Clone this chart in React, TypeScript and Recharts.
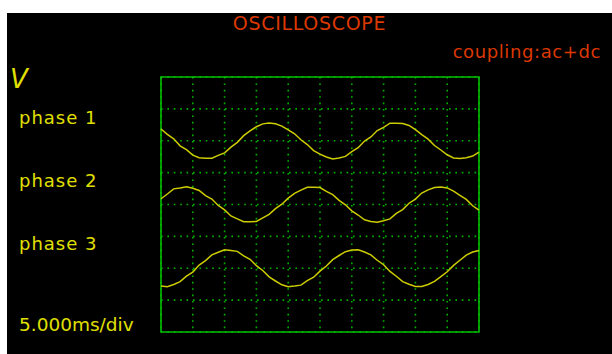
import React from "react";
import { LineChart, Line, XAxis, YAxis, CartesianGrid, ReferenceArea } from "recharts";

// time in ms (5 ms/div, 10 divisions)
const timeMs = [
  0, 1, 2, 3, 4, 5, 6, 7, 8, 9, 10, 11, 12, 13, 14, 15, 16, 17, 18, 19,
  20, 21, 22, 23, 24, 25, 26, 27, 28, 29, 30, 31, 32, 33, 34, 35, 36, 37, 38, 39,
  40, 41, 42, 43, 44, 45, 46, 47, 48, 49, 50,
];

// vertical position in divisions (0..8)
const phase1 = [
  6.37, 6.2, 6.06, 5.84, 5.72, 5.55, 5.47, 5.45, 5.45, 5.54, 5.62, 5.8, 5.95, 6.16, 6.31, 6.44, 6.53, 6.56, 6.53, 6.46,
  6.34, 6.22, 6.03, 5.88, 5.69, 5.58, 5.49, 5.43, 5.46, 5.51, 5.66, 5.78, 5.99, 6.12, 6.32, 6.42, 6.55, 6.55, 6.54, 6.48,
  6.35, 6.19, 6.05, 5.85, 5.71, 5.56, 5.46, 5.44, 5.47, 5.52, 5.64,
];
const phase2 = [
  4.18, 4.33, 4.49, 4.52, 4.56, 4.51, 4.44, 4.28, 4.17, 3.97, 3.83, 3.64, 3.55, 3.46, 3.46, 3.47, 3.58, 3.69, 3.87, 4.01,
  4.2, 4.35, 4.45, 4.54, 4.54, 4.53, 4.41, 4.31, 4.13, 3.99, 3.8, 3.67, 3.52, 3.47, 3.44, 3.49, 3.55, 3.72, 3.84, 4.04,
  4.17, 4.36, 4.46, 4.53, 4.55, 4.52, 4.42, 4.29, 4.16, 3.96, 3.82,
];
const phase3 = [
  1.44, 1.42, 1.49, 1.58, 1.75, 1.88, 2.1, 2.24, 2.42, 2.5, 2.58, 2.56, 2.53, 2.39, 2.28, 2.08, 1.93, 1.73, 1.6, 1.48,
  1.42, 1.44, 1.47, 1.61, 1.72, 1.91, 2.07, 2.27, 2.4, 2.52, 2.57, 2.58, 2.51, 2.42, 2.25, 2.11, 1.9, 1.75, 1.58, 1.5,
  1.43, 1.43, 1.49, 1.59, 1.74, 1.89, 2.09, 2.25, 2.41, 2.51, 2.56,
];

const xTicks = [5, 10, 15, 20, 25, 30, 35, 40, 45];
const yTicks = [1, 2, 3, 4, 5, 6, 7];

const title = "OSCILLOSCOPE";
const coupling = "coupling:ac+dc";
const unitLabel = "V";
const seriesNames = ["phase 1", "phase 2", "phase 3"];
const timebase = "5.000ms/div";

const data = timeMs.map((t, i) => ({ t, p1: phase1[i], p2: phase2[i], p3: phase3[i] }));

const W = 605;
const H = 341;
const FONT = "'DejaVu Sans', sans-serif";
const RED = "#dc3800";
const YEL = "#e0e000";
const TRACE = "#cccc00";
const GREEN = "#00c000";
const GRID = "#00b400";

export default function App() {
  return (
    <div style={{ position: "absolute", left: 7, top: 13, width: W, height: H, background: "#000", overflow: "hidden" }}>
      <LineChart width={W} height={H} data={data} margin={{ top: 64, left: 154, right: 133, bottom: 22 }}>
        <XAxis dataKey="t" type="number" domain={[0, 50]} ticks={xTicks} hide />
        <YAxis type="number" domain={[0, 8]} ticks={yTicks} hide />
        <CartesianGrid stroke={GRID} strokeWidth={1.6} strokeDasharray="1.6 4.8" />
        <ReferenceArea x1={0} x2={50} y1={0} y2={8} fill="none" stroke={GREEN} strokeWidth={1.6} fillOpacity={0} ifOverflow="visible" />
        <Line dataKey="p1" type="linear" stroke={TRACE} strokeWidth={1.5} dot={false} isAnimationActive={false} />
        <Line dataKey="p2" type="linear" stroke={TRACE} strokeWidth={1.5} dot={false} isAnimationActive={false} />
        <Line dataKey="p3" type="linear" stroke={TRACE} strokeWidth={1.5} dot={false} isAnimationActive={false} />
      </LineChart>
      <svg width={W} height={H} style={{ position: "absolute", left: 0, top: 0, pointerEvents: "none" }}>
        <text x={302.5} y={17} textAnchor="middle" fill={RED} fontFamily={FONT} fontSize={19} letterSpacing={0.7}>
          {title}
        </text>
        <text x={594} y={45} textAnchor="end" fill={RED} fontFamily={FONT} fontSize={18} letterSpacing={0.6}>
          {coupling}
        </text>
        <text x={3} y={75} fill={YEL} fontFamily={FONT} fontSize={26} fontStyle="italic">
          {unitLabel}
        </text>
        {seriesNames.map((n, i) => (
          <text key={n} x={12} y={111 + i * 63} fill={YEL} fontFamily={FONT} fontSize={18} letterSpacing={1}>
            {n}
          </text>
        ))}
        <text x={12} y={318} fill={YEL} fontFamily={FONT} fontSize={18.5}>
          {timebase}
        </text>
      </svg>
    </div>
  );
}
